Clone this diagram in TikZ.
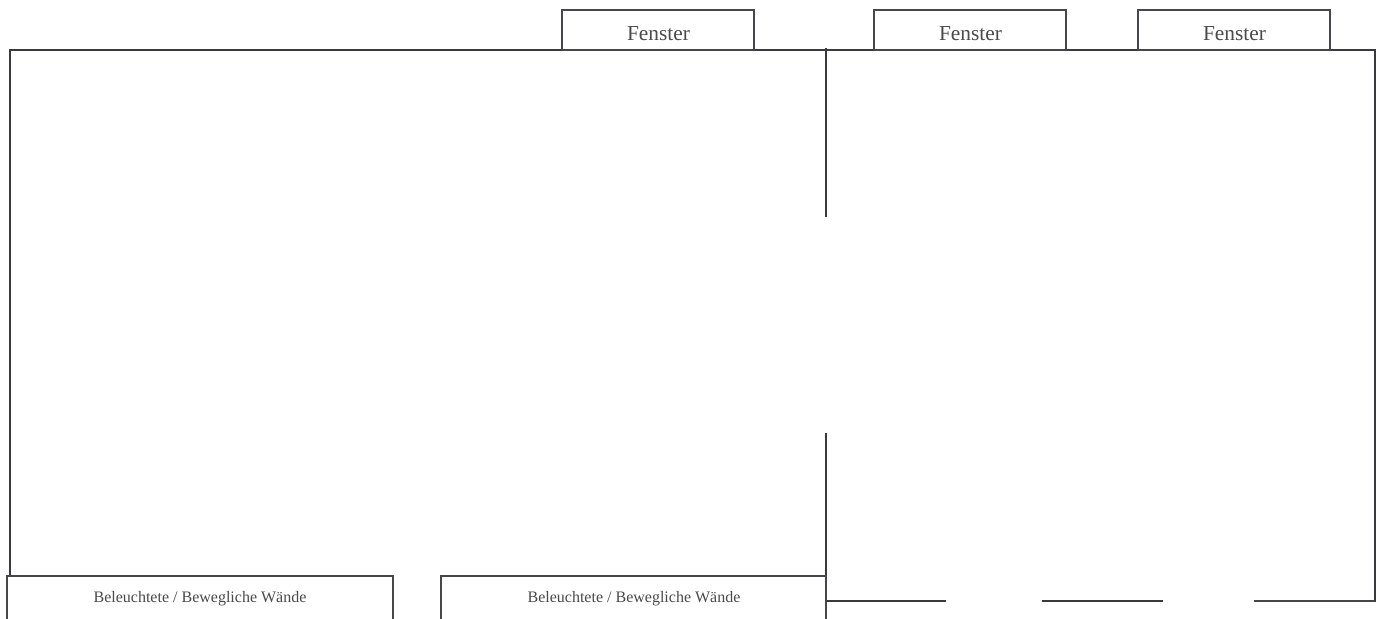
\documentclass[tikz,border=0pt]{standalone}
\usepackage{fontspec}
\setmainfont{Liberation Serif}
\definecolor{wall}{HTML}{3A3A3E}
\definecolor{boxline}{HTML}{47474B}
\definecolor{txt}{HTML}{4A4A4A}
\tikzset{
  wallline/.style={draw=wall,line width=1.5pt},
  boxside/.style={draw=boxline,line width=1.5pt,fill=white},
  fenstertext/.style={text=txt,font=\fontsize{16pt}{18pt}\selectfont,inner sep=0pt,anchor=base},
  wandtext/.style={text=txt,font=\fontsize{12pt}{14pt}\selectfont,inner sep=0pt,anchor=base}
}
\begin{document}
\begin{tikzpicture}[x=0.75pt,y=-0.75pt]
\useasboundingbox (0,0) rectangle (1380,618);
\clip (0,0) rectangle (1380,618);
% outer walls
\draw[wallline] (10,576) -- (10,50) -- (1375,50) -- (1375,601.5);
% central wall
\draw[wallline] (826,48) -- (826,217);
\draw[wallline] (826,433) -- (826,618);
% lower wall pieces
\draw[wallline] (826,601) -- (946,601);
\draw[wallline] (1042,601) -- (1163,601);
\draw[wallline,draw=boxline] (1254,600.5) -- (1375,600.5);
% windows
\draw[boxside] (562,10) rectangle (754,50);
\draw[boxside] (874,10) rectangle (1066,50);
\draw[boxside] (1138,10) rectangle (1330,50);
\node[fenstertext] (f1) at (658.5,40) {Fenster};
\node[fenstertext] (f2) at (970.5,40) {Fenster};
\node[fenstertext] (f3) at (1234.5,40) {Fenster};
% movable walls
\draw[boxside] (7,630) -- (7,576) -- (393,576) -- (393,630);
\draw[boxside] (441,630) -- (441,576) -- (826,576) -- (826,630);
\node[wandtext] (w1) at (200,602) {Beleuchtete / Bewegliche Wände};
\node[wandtext] (w2) at (634,602) {Beleuchtete / Bewegliche Wände};
\end{tikzpicture}
\end{document}
